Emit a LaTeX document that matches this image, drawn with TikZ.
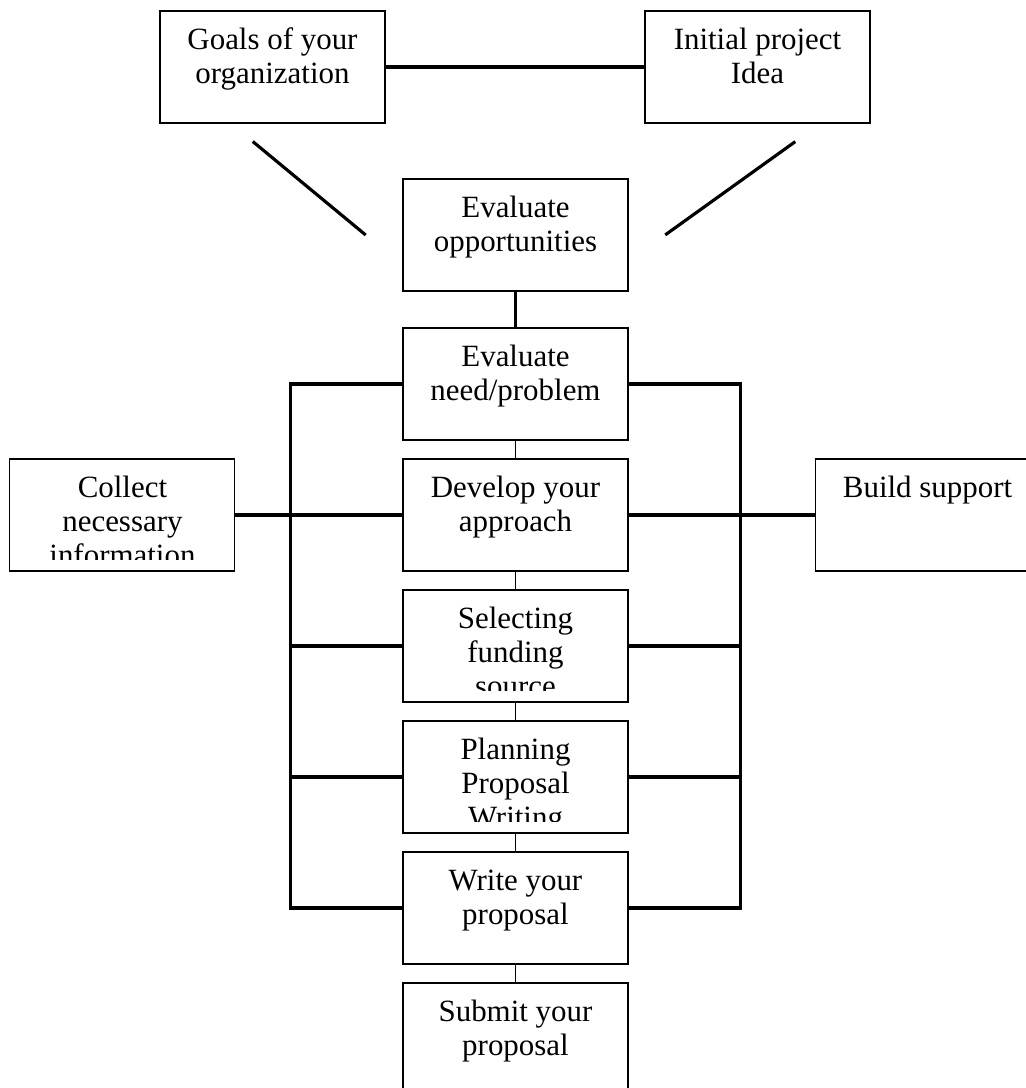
\documentclass[tikz,border=0pt]{standalone}
\usepackage{fontspec}
\setmainfont{Liberation Serif}
\usetikzlibrary{positioning}

\tikzstyle{stepbox} = [rectangle, draw=black, line width=0.6pt, minimum width=4.5cm, minimum height=2.24cm, inner sep=0pt]
\tikzstyle{link} = [draw=black, line width=1.8pt, line cap=rect]
\tikzstyle{thinlink} = [draw=black, line width=0.6pt]
% text sits at the top of the box and is cut off near the bottom edge
\tikzset{btext/.style={path picture={
  \clip ([yshift=0.24cm]path picture bounding box.south west) rectangle (path picture bounding box.north east);
  \node [draw=none, rectangle, minimum width=0pt, minimum height=0pt, inner sep=0pt, anchor=base, text width=4.4cm, align=flush center] at ([yshift=-0.76cm]path picture bounding box.north) {#1};
}}}

\begin{document}
\begin{tikzpicture}[node distance=2.62cm, font=\fontsize{17.6pt}{19.4pt}\selectfont]

\useasboundingbox (-10.31,4.70) rectangle (10.21,-17.06);
\clip (-10.31,4.70) rectangle (10.21,-17.06);

\node (evalopp) [stepbox, btext={Evaluate\\opportunities}] {};
\node (goals) [stepbox, above of=evalopp, xshift=-4.86cm, yshift=0.74cm, btext={Goals of your\\organization}] {};
\node (idea) [stepbox, above of=evalopp, xshift=4.84cm, yshift=0.74cm, btext={Initial project\\Idea}] {};
\node (need) [stepbox, below of=evalopp, yshift=-0.36cm, btext={Evaluate\\need/problem}] {};
\node (develop) [stepbox, below of=need, btext={Develop your\\approach}] {};
\node (funding) [stepbox, below of=develop, btext={Selecting\\funding\\source}] {};
\node (planning) [stepbox, below of=funding, btext={Planning\\Proposal\\Writing}] {};
\node (write) [stepbox, below of=planning, btext={Write your\\proposal}] {};
\node (submit) [stepbox, below of=write, btext={Submit your\\proposal}] {};
\node (collect) [stepbox, left=3.34cm of develop, btext={Collect\\necessary\\information}] {};
\node (support) [stepbox, right=3.72cm of develop, btext={Build support}] {};

\coordinate (gtop) at ([shift={(-0.37cm,-0.38cm)}]goals.south);
\coordinate (gbot) at ([shift={(-0.76cm,0.02cm)}]evalopp.west);
\coordinate (itop) at ([shift={(0.73cm,-0.38cm)}]idea.south);
\coordinate (ibot) at ([shift={(0.76cm,0.02cm)}]evalopp.east);
\coordinate (lbus) at ([xshift=-2.24cm]need.west);
\coordinate (rbus) at ([xshift=2.24cm]need.east);

\draw [link] (goals.east) -- (idea.west);
\draw [link] (gtop) -- (gbot);
\draw [link] (itop) -- (ibot);
\draw [link] (evalopp) -- (need);
\draw [thinlink] (need) -- (develop);
\draw [thinlink] (develop) -- (funding);
\draw [thinlink] (funding) -- (planning);
\draw [thinlink] (planning) -- (write);
\draw [thinlink] (write) -- (submit);
% side rails
\draw [link] (lbus) -- (write.west -| lbus);
\draw [link] (rbus) -- (write.east -| rbus);
\foreach \step in {need, funding, planning, write} {
  \draw [link] (\step.west) -- (\step.west -| lbus);
  \draw [link] (\step.east) -- (\step.east -| rbus);
}
\draw [link] (collect.east) -- (develop.west);
\draw [link] (develop.east) -- (support.west);

\end{tikzpicture}
\end{document}
